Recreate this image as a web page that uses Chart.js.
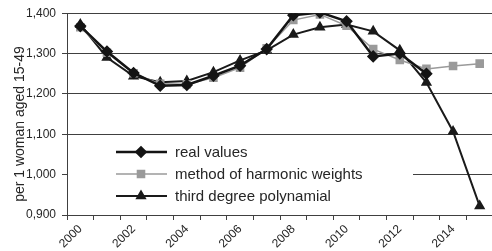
<!DOCTYPE html>
<html>
<head>
<meta charset="utf-8">
<script src="https://cdn.jsdelivr.net/npm/chart.js@4/dist/chart.umd.min.js"></script>
<style>
  html, body { margin: 0; padding: 0; background: #fff; overflow: hidden; }
  #wrap { width: 500px; height: 251px; }
</style>
</head>
<body>
<div id="wrap"><canvas id="chart" width="500" height="251"></canvas></div>
<script>
// years on the category axis
const years = ["2000", "2001", "2002", "2003", "2004", "2005", "2006", "2007",
               "2008", "2009", "2010", "2011", "2012", "2013", "2014", "2015"];

// fertility per woman
const realValues = [1.368, 1.305, 1.252, 1.220, 1.222, 1.245, 1.270, 1.311,
                    1.395, 1.402, 1.380, 1.293, 1.300, 1.250, null, null];
const harmonicWeights = [1.365, 1.302, 1.251, 1.225, 1.224, 1.240, 1.265, 1.313,
                         1.383, 1.397, 1.369, 1.311, 1.284, 1.262, 1.269, 1.275];
const polynomial = [1.372, 1.290, 1.244, 1.229, 1.232, 1.254, 1.283, 1.308,
                    1.347, 1.365, 1.372, 1.355, 1.308, 1.228, 1.107, 0.922];

const seriesNames = ["real values", "method of harmonic weights", "third degree polynamial"];
const yTicks = [0.9, 1.0, 1.1, 1.2, 1.3, 1.4];
const yTitle = "per 1 woman aged 15-49";

const FONT = "'Liberation Sans', Arial, sans-serif";
const TEXT = "#262626";

// legend drawn inside the plot, on a white box that hides the grid
const boxLegend = {
  id: "boxLegend",
  beforeDatasetsDraw(chart) {
    const ctx = chart.ctx;
    ctx.save();
    ctx.fillStyle = "#fff";
    ctx.fillRect(68, 140, 345, 71);
    chart.data.datasets.forEach((ds, i) => {
      const y = 152 + i * 22;
      ctx.strokeStyle = ds.borderColor;
      ctx.lineWidth = ds.borderWidth;
      ctx.beginPath();
      ctx.moveTo(116, y);
      ctx.lineTo(167, y);
      ctx.stroke();
      ctx.fillStyle = ds.pointBackgroundColor;
      ctx.strokeStyle = ds.pointBorderColor;
      Chart.helpers.drawPoint(ctx, {
        pointStyle: ds.pointStyle,
        radius: ds.pointRadius,
        borderWidth: 1
      }, 141, y);
      ctx.fillStyle = TEXT;
      ctx.font = "15px " + FONT;
      ctx.textBaseline = "middle";
      ctx.fillText(ds.label, 175, y + 1);
    });
    ctx.restore();
  },
  afterDraw(chart) {
    // axis title, sitting a bit below the middle like the original
    const ctx = chart.ctx;
    ctx.save();
    ctx.translate(20, 124);
    ctx.rotate(-Math.PI / 2);
    ctx.fillStyle = TEXT;
    ctx.font = "14px " + FONT;
    ctx.textAlign = "center";
    ctx.textBaseline = "middle";
    ctx.fillText(yTitle, 0, 0);
    ctx.restore();
  }
};

new Chart(document.getElementById("chart"), {
  type: "line",
  data: {
    labels: years,
    datasets: [
      {
        label: seriesNames[0],
        data: realValues,
        borderColor: "#141414",
        borderWidth: 2.5,
        pointStyle: "rectRot",
        pointRadius: 4.5,
        pointBackgroundColor: "#141414",
        pointBorderColor: "#141414"
      },
      {
        label: seriesNames[1],
        data: harmonicWeights,
        borderColor: "#9a9a9a",
        borderWidth: 1.5,
        pointStyle: "rect",
        pointRadius: 5,
        pointBackgroundColor: "#9a9a9a",
        pointBorderColor: "#9a9a9a"
      },
      {
        label: seriesNames[2],
        data: polynomial,
        borderColor: "#1a1a1a",
        borderWidth: 2,
        pointStyle: "triangle",
        pointRadius: 4.5,
        pointBackgroundColor: "#1a1a1a",
        pointBorderColor: "#1a1a1a"
      }
    ]
  },
  options: {
    responsive: false,
    animation: false,
    spanGaps: false,
    layout: { padding: { top: 12, right: 7, left: 0, bottom: 0 } },
    plugins: {
      legend: { display: false },
      tooltip: { enabled: false }
    },
    scales: {
      x: {
        offset: true,
        grid: {
          offset: true,
          drawOnChartArea: false,
          drawTicks: true,
          tickLength: 5,
          color: "#404040"
        },
        border: { color: "#404040", width: 1 },
        afterFit(scale) { scale.height = 36; },
        ticks: {
          autoSkip: false,
          minRotation: 45,
          maxRotation: 45,
          padding: 2,
          color: TEXT,
          font: { family: FONT, size: 12 },
          callback(value, index) {
            return index % 2 === 0 ? years[index] : "";
          }
        }
      },
      y: {
        min: 0.9,
        max: 1.4,
        afterFit(scale) { scale.width = 67; },
        afterBuildTicks(scale) {
          scale.ticks = yTicks.map(v => ({ value: v }));
        },
        grid: {
          color: "#404040",
          lineWidth: 1,
          drawTicks: true,
          tickLength: 5
        },
        border: { color: "#404040", width: 1 },
        ticks: {
          padding: 6,
          color: TEXT,
          font: { family: FONT, size: 12 },
          callback(value) {
            return value.toFixed(3).replace(".", ",");
          }
        }
      }
    }
  },
  plugins: [boxLegend]
});
</script>
</body>
</html>
